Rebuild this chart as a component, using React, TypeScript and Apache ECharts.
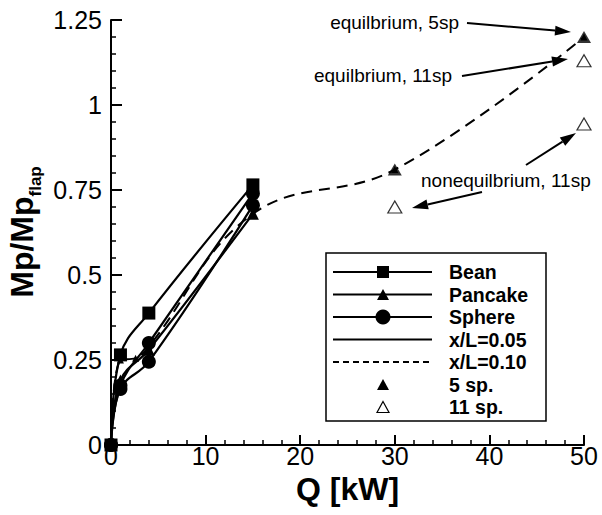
import React, { useEffect, useRef } from "react";
import * as echarts from "echarts";

// ---- data ----
const beanQ = [0, 1, 4, 15];
const beanMp = [0, 0.265, 0.388, 0.765];
const sphereQ = [0, 1, 4, 15];
const sphereMpA = [0, 0.175, 0.3, 0.74];
const sphereMpB = [0, 0.165, 0.245, 0.705];
const pancakeQ = [0, 1, 4, 15];
const pancakeMp = [0, 0.19, 0.28, 0.68];
const dashedQ = [0, 1, 2.6, 4, 15, 30, 50];
const dashedMp = [0, 0.25, 0.255, 0.29, 0.68, 0.81, 1.2];
const sp5Q = [30, 50];
const sp5Mp = [0.81, 1.2];
const sp11Q = [30, 50, 50];
const sp11Mp = [0.7, 1.13, 0.944];
const legendNames = ["Bean", "Pancake", "Sphere", "x/L=0.05", "x/L=0.10", "5 sp.", "11 sp."];
const annotationTexts = ["equilbrium, 5sp", "equilbrium, 11sp", "nonequilbrium, 11sp"];

const FONT = "'Liberation Sans', Arial, Helvetica, sans-serif";

const zip = (xs: number[], ys: number[]) => xs.map((x, i) => [x, ys[i]]);

function arrow(x1: number, y1: number, x2: number, y2: number) {
  const dx = x2 - x1;
  const dy = y2 - y1;
  const len = Math.sqrt(dx * dx + dy * dy);
  const ux = dx / len;
  const uy = dy / len;
  const hl = 16;
  const hw = 5;
  const bx = x2 - ux * hl;
  const by = y2 - uy * hl;
  return [
    {
      type: "line",
      shape: { x1, y1, x2: bx, y2: by },
      style: { stroke: "#000", lineWidth: 2 },
      silent: true,
    },
    {
      type: "polygon",
      shape: {
        points: [
          [x2, y2],
          [bx - uy * hw, by + ux * hw],
          [bx + uy * hw, by - ux * hw],
        ],
      },
      style: { fill: "#000" },
      silent: true,
    },
  ];
}

function triPts(cx: number, cy: number, w: number, h: number) {
  return [
    [cx, cy - h / 2],
    [cx + w / 2, cy + h / 2],
    [cx - w / 2, cy + h / 2],
  ];
}

export default function App() {
  const ref = useRef<HTMLDivElement>(null);

  useEffect(() => {
    if (!ref.current) return;
    document.body.style.margin = "0";
    const chart = echarts.init(ref.current, undefined, { renderer: "svg" });

    const lineBase = {
      type: "line",
      smooth: 0.4,
      lineStyle: { color: "#000", width: 2.2 },
      itemStyle: { color: "#000" },
      showSymbol: true,
      z: 3,
    };

    // legend graphic
    const lx1 = 333;
    const lx2 = 432;
    const mx = 383;
    const tx = 449;
    const rows = legendNames.map((_, i) => 272 + i * 22.5);
    const legendEls: any[] = [
      {
        type: "rect",
        shape: { x: 326, y: 253, width: 220, height: 168 },
        style: { fill: "#fff", stroke: "#000", lineWidth: 1.5 },
        z: 10,
      },
    ];
    rows.forEach((y, i) => {
      if (i < 4) {
        legendEls.push({
          type: "line",
          shape: { x1: lx1, y1: y, x2: lx2, y2: y },
          style: { stroke: "#000", lineWidth: 2.2 },
          z: 11,
        });
      } else if (i === 4) {
        legendEls.push({
          type: "line",
          shape: { x1: lx1, y1: y, x2: lx2, y2: y },
          style: { stroke: "#000", lineWidth: 2, lineDash: [6, 4] },
          z: 11,
        });
      }
      if (i === 0) {
        legendEls.push({ type: "rect", shape: { x: mx - 6, y: y - 6, width: 12, height: 12 }, style: { fill: "#000" }, z: 12 });
      } else if (i === 1 || i === 5) {
        legendEls.push({ type: "polygon", shape: { points: triPts(mx, y, 12, 11) }, style: { fill: "#000" }, z: 12 });
      } else if (i === 2) {
        legendEls.push({ type: "circle", shape: { cx: mx, cy: y, r: 7.5 }, style: { fill: "#000" }, z: 12 });
      } else if (i === 6) {
        legendEls.push({ type: "polygon", shape: { points: triPts(mx, y, 12, 11) }, style: { fill: "#fff", stroke: "#000", lineWidth: 1.2 }, z: 12 });
      }
      legendEls.push({
        type: "text",
        x: tx,
        y: y,
        style: {
          text: legendNames[i],
          font: `bold 19.5px ${FONT}`,
          fill: "#000",
          align: "left",
          verticalAlign: "middle",
        },
        z: 12,
      });
    });

    const annEls: any[] = [
      {
        type: "text",
        x: 459,
        y: 22,
        style: { text: annotationTexts[0], font: `19px ${FONT}`, fill: "#000", align: "right", verticalAlign: "middle" },
      },
      ...arrow(467, 23, 571, 32),
      {
        type: "text",
        x: 452,
        y: 75,
        style: { text: annotationTexts[1], font: `19px ${FONT}`, fill: "#000", align: "right", verticalAlign: "middle" },
      },
      ...arrow(462, 76, 568, 59),
      {
        type: "text",
        x: 421,
        y: 180,
        style: { text: annotationTexts[2], font: `19px ${FONT}`, fill: "#000", align: "left", verticalAlign: "middle" },
      },
      ...arrow(526, 165, 576, 133),
      ...arrow(482, 192, 412, 208),
    ];

    const yTitle = {
      type: "text",
      x: 22,
      y: 232,
      rotation: Math.PI / 2,
      style: {
        text: "{a|Mp/Mp}{b|flap}",
        align: "center",
        verticalAlign: "middle",
        rich: {
          a: { font: `bold 32px ${FONT}`, fill: "#000" },
          b: { font: `bold 17px ${FONT}`, fill: "#000", verticalAlign: "bottom", padding: [0, 0, -6, 0] },
        },
      },
    };

    const option: any = {
      animation: false,
      backgroundColor: "#fff",
      grid: { left: 111, right: 18, top: 20, bottom: 70, containLabel: false },
      xAxis: {
        type: "value",
        min: 0,
        max: 50,
        interval: 10,
        name: "Q [kW]",
        nameLocation: "middle",
        nameGap: 28,
        nameTextStyle: { fontFamily: FONT, fontWeight: "bold", fontSize: 32, color: "#000" },
        axisLine: { show: true, onZero: false, lineStyle: { color: "#000", width: 2 } },
        axisTick: { show: true, inside: true, length: 10, lineStyle: { color: "#000", width: 2 } },
        minorTick: { show: true, splitNumber: 5, length: 5, lineStyle: { color: "#000", width: 1.5 } },
        splitLine: { show: false },
        axisLabel: { color: "#000", fontFamily: FONT, fontSize: 25, margin: -2 },
      },
      yAxis: {
        type: "value",
        min: 0,
        max: 1.25,
        interval: 0.25,
        axisLine: { show: true, onZero: false, lineStyle: { color: "#000", width: 2 } },
        axisTick: { show: true, inside: true, length: 11, lineStyle: { color: "#000", width: 2 } },
        minorTick: { show: true, splitNumber: 5, length: 5, lineStyle: { color: "#000", width: 1.5 } },
        splitLine: { show: false },
        axisLabel: { color: "#000", fontFamily: FONT, fontSize: 25, margin: 9 },
      },
      graphic: [yTitle, ...annEls, ...legendEls],
      series: [
        {
          ...lineBase,
          name: "x/L=0.10",
          data: zip(dashedQ, dashedMp),
          lineStyle: { color: "#000", width: 2, type: [11, 7] },
          symbol: "triangle",
          symbolSize: 7,
          z: 2,
        },
        { ...lineBase, name: "Pancake", data: zip(pancakeQ, pancakeMp), symbol: "triangle", symbolSize: 12 },
        { ...lineBase, name: "Sphere B", data: zip(sphereQ, sphereMpB), symbol: "circle", symbolSize: 14 },
        { ...lineBase, name: "Sphere", data: zip(sphereQ, sphereMpA), symbol: "circle", symbolSize: 14 },
        { ...lineBase, name: "Bean", data: zip(beanQ, beanMp), symbol: "rect", symbolSize: 13 },
        {
          type: "scatter",
          name: "5 sp.",
          data: zip(sp5Q, sp5Mp),
          symbol: "triangle",
          symbolSize: [14, 12],
          itemStyle: { color: "#000" },
          z: 5,
        },
        {
          type: "scatter",
          name: "11 sp.",
          data: zip(sp11Q, sp11Mp),
          symbol: "triangle",
          symbolSize: [14, 12],
          itemStyle: { color: "#fff", borderColor: "#000", borderWidth: 1.2 },
          z: 5,
        },
      ],
    };
    chart.setOption(option);
    return () => chart.dispose();
  }, []);

  return <div ref={ref} style={{ position: "fixed", left: 0, top: 0, width: 602, height: 515, background: "#fff" }} />;
}
